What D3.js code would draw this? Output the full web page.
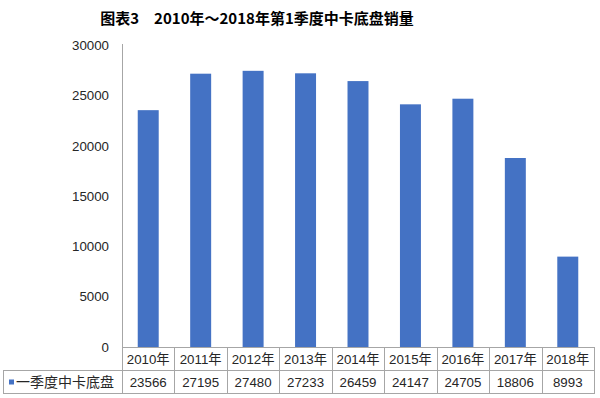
<!DOCTYPE html>
<html lang="zh">
<head>
  <meta charset="UTF-8">
  <title>图表3</title>
  <script src="https://d3js.org/d3.v7.min.js"></script>
  <style>
    body { margin: 0; background: #fff; }
    svg { display: block; }
    text { font-family: "Liberation Sans", Arial, "Noto Sans CJK SC", sans-serif; fill: #262626; }
    .title { font-family: "Noto Sans CJK SC", sans-serif; font-weight: bold; font-size: 15px; fill: #000; }
    .tick-label { font-size: 13.3px; }
    .cell { font-size: 13.3px; }
    .grid-line { stroke: #a6a6a6; stroke-width: 1; shape-rendering: crispEdges; }
  </style>
</head>
<body>
  <svg width="600" height="398"></svg>

  <script>
    const years = ["2010年", "2011年", "2012年", "2013年", "2014年", "2015年", "2016年", "2017年", "2018年"];
    const sales = [23566, 27195, 27480, 27233, 26459, 24147, 24705, 18806, 8993];
    const yTicks = [0, 5000, 10000, 15000, 20000, 25000, 30000];
    const seriesName = "一季度中卡底盘";
    const chartTitle = "图表3　2010年～2018年第1季度中卡底盘销量";

    const plotLeft = 122, plotRight = 594, plotTop = 44, plotBottom = 347;
    const rowH = 23;

    const svg = d3.select("svg");

    svg.append("text")
       .attr("class", "title")
       .attr("x", 257)
       .attr("y", 24)
       .attr("text-anchor", "middle")
       .text(chartTitle);

    const x = d3.scaleBand().domain(years).range([plotLeft, plotRight]).paddingInner(0.6).paddingOuter(0.3);
    const xCell = d3.scaleBand().domain(years).range([plotLeft, plotRight]).padding(0);
    const y = d3.scaleLinear().domain([0, 30000]).range([plotBottom, plotTop + 1.5]);

    // y tick labels
    svg.selectAll(".tick-label")
       .data(yTicks)
       .enter()
       .append("text")
       .attr("class", "tick-label")
       .attr("x", 109)
       .attr("y", d => y(d))
       .attr("dy", "0.35em")
       .attr("text-anchor", "end")
       .text(d => d);

    // bars
    svg.selectAll(".bar")
       .data(sales)
       .enter()
       .append("rect")
       .attr("class", "bar")
       .attr("x", (d, i) => x(years[i]))
       .attr("width", x.bandwidth())
       .attr("y", d => y(d))
       .attr("height", d => y(0) - y(d))
       .attr("fill", "#4472c4");

    // axis line
    svg.append("line").attr("class", "grid-line")
       .attr("x1", plotLeft + 0.5).attr("x2", plotLeft + 0.5)
       .attr("y1", plotTop).attr("y2", plotBottom + 2 * rowH);

    // table horizontal lines
    svg.append("line").attr("class", "grid-line")
       .attr("x1", plotLeft).attr("x2", plotRight + 0.5)
       .attr("y1", plotBottom + 0.5).attr("y2", plotBottom + 0.5);
    svg.append("line").attr("class", "grid-line")
       .attr("x1", 3).attr("x2", plotRight + 0.5)
       .attr("y1", plotBottom + rowH + 0.5).attr("y2", plotBottom + rowH + 0.5);
    svg.append("line").attr("class", "grid-line")
       .attr("x1", 3).attr("x2", plotRight + 0.5)
       .attr("y1", plotBottom + 2 * rowH + 0.5).attr("y2", plotBottom + 2 * rowH + 0.5);
    svg.append("line").attr("class", "grid-line")
       .attr("x1", 3.5).attr("x2", 3.5)
       .attr("y1", plotBottom + rowH).attr("y2", plotBottom + 2 * rowH);

    // table vertical lines
    svg.selectAll(".col-line")
       .data(years)
       .enter()
       .append("line")
       .attr("class", "grid-line")
       .attr("x1", d => Math.round(xCell(d) + xCell.bandwidth()) + 0.5)
       .attr("x2", d => Math.round(xCell(d) + xCell.bandwidth()) + 0.5)
       .attr("y1", plotBottom)
       .attr("y2", plotBottom + 2 * rowH);

    // category row
    svg.selectAll(".cat")
       .data(years)
       .enter()
       .append("text")
       .attr("class", "cell")
       .attr("x", d => xCell(d) + xCell.bandwidth() / 2)
       .attr("y", plotBottom + rowH / 2 + 1)
       .attr("dy", "0.35em")
       .attr("text-anchor", "middle")
       .text(d => d);

    // value row
    svg.selectAll(".val")
       .data(sales)
       .enter()
       .append("text")
       .attr("class", "cell")
       .attr("x", (d, i) => xCell(years[i]) + xCell.bandwidth() / 2)
       .attr("y", plotBottom + rowH * 1.5 + 1)
       .attr("dy", "0.35em")
       .attr("text-anchor", "middle")
       .text(d => d);

    // legend key
    svg.append("rect")
       .attr("x", 9).attr("y", plotBottom + rowH * 1.5 - 2)
       .attr("width", 5).attr("height", 5)
       .attr("fill", "#4472c4");
    svg.append("text")
       .attr("class", "cell")
       .style("font-family", "'Noto Sans CJK SC', sans-serif")
       .style("font-size", "14px")
       .attr("x", 16)
       .attr("y", plotBottom + rowH * 1.5 + 1)
       .attr("dy", "0.35em")
       .text(seriesName);
  </script>
</body>
</html>
